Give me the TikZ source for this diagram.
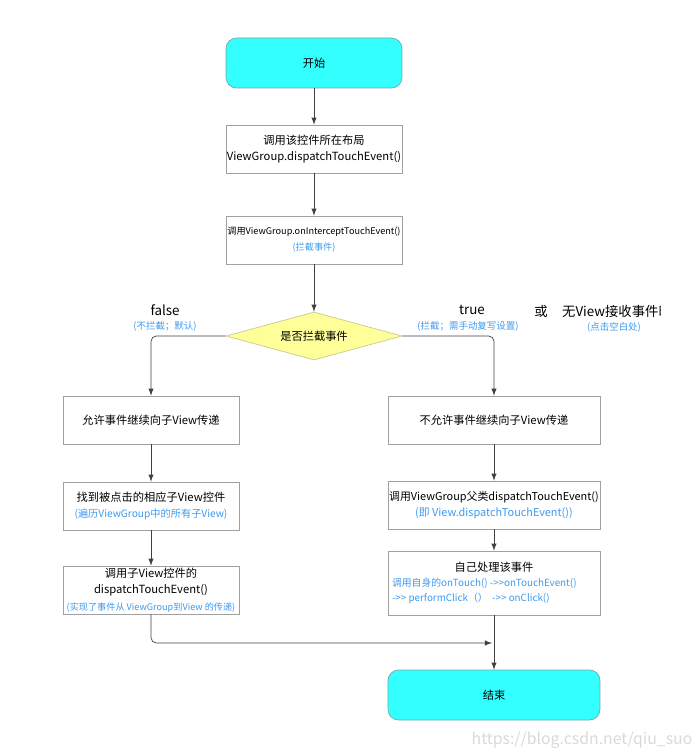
\documentclass[tikz,border=0pt]{standalone}
\usepackage{fontspec}
\setmainfont{Noto Sans CJK SC}
\usetikzlibrary{shapes.geometric}
\definecolor{termfill}{HTML}{33FFFF}
\definecolor{termline}{HTML}{6FA8A8}
\definecolor{judgefill}{HTML}{FFFF99}
\definecolor{judgeline}{HTML}{C9C98F}
\definecolor{boxline}{HTML}{A0A0A0}
\definecolor{hint}{HTML}{3D9BF0}
\definecolor{flow}{HTML}{404040}
\tikzset{
    stepbox/.style={draw=boxline, fill=white, minimum width=3.52cm, minimum height=0.96cm, align=center, inner sep=0pt, font=\fontsize{6.4}{9.4}\selectfont},
    widebox/.style={stepbox, minimum width=4.24cm},
    terminal/.style={draw=termline, fill=termfill, rounded corners=6pt, minimum width=3.52cm, minimum height=1cm, font=\fontsize{6.4}{8}\selectfont},
    judge/.style={diamond, aspect=3.6, draw=judgeline, fill=judgefill, minimum width=3.52cm, minimum height=0.96cm, inner sep=0pt, font=\fontsize{6.4}{8}\selectfont},
    branch/.style={font=\fontsize{7.6}{9}\selectfont},
    note/.style={text=hint, font=\fontsize{5.4}{7}\selectfont},
    flowline/.style={draw=flow, ->, >=latex, rounded corners=3pt}
}
\newcommand{\hintline}[1]{\makebox[4.08cm][l]{\textcolor{hint}{\fontsize{5.6}{8.6}\selectfont #1}}}
\begin{document}
\begin{tikzpicture}[x=0.02cm, y=-0.02cm]
    \useasboundingbox (0, 0) rectangle (692, 756);
    % main column
    \node[terminal] (start) at (314, 63) {开始};
    \node[stepbox] (layout) at (314, 149) {调用该控件所在布局\\ViewGroup.dispatchTouchEvent()};
    \node[stepbox, font=\fontsize{5.2}{9}\selectfont] (intercept) at (314, 240) {调用ViewGroup.onInterceptTouchEvent()\\\textcolor{hint}{(拦截事件)}};
    \node[judge] (ask) at (314, 336) {是否拦截事件};
    % left branch
    \node[stepbox] (allow) at (151, 420) {允许事件继续向子View传递};
    \node[stepbox] (find) at (151, 506) {找到被点击的相应子View控件\\\textcolor{hint}{\fontsize{5.8}{9}\selectfont(遍历ViewGroup中的所有子View)}};
    \node[stepbox] (child) at (151, 590) {调用子View控件的\\dispatchTouchEvent()\\\textcolor{hint}{\fontsize{5.2}{8}\selectfont(实现了事件从 ViewGroup到View 的传递)}};
    % right branch
    \node[widebox] (deny) at (494, 420) {不允许事件继续向子View传递};
    \node[widebox, font=\fontsize{6.2}{9.4}\selectfont] (parent) at (494, 505) {调用ViewGroup父类dispatchTouchEvent()\\\textcolor{hint}{(即 View.dispatchTouchEvent())}};
    \node[widebox, minimum height=1.28cm, font=\fontsize{6.4}{8.6}\selectfont] (self) at (494, 583) {自己处理该事件\\\hintline{调用自身的onTouch() -{}>{}>onTouchEvent()}\\\hintline{-{}>{}> performClick（）\ \ -{}>{}> onClick()}};
    \node[terminal, minimum width=4.24cm] (finish) at (494, 695) {结束};
    \coordinate (merge) at (492, 643);
    % branch labels
    \node[branch] (nolabel) at (165, 310) {false};
    \node[note] (nonote) at (165, 326) {(不拦截；默认)};
    \node[branch] (yeslabel) at (472, 310) {true};
    \node[note] (yesnote) at (468, 326) {(拦截；需手动复写设置)};
    \node[branch] (orlabel) at (541, 311) {或};
    \begin{scope}
        \clip (0, 0) rectangle (660, 756);
        \node[branch, anchor=west] (emptylabel) at (556, 311) {无View接收事件时};
    \end{scope}
    \node[note] (emptynote) at (614, 327) {(点击空白处)};
    % connectors
    \draw[flowline] (start) -- (layout);
    \draw[flowline] (layout) -- (intercept);
    \draw[flowline] (intercept) -- (ask);
    \draw[flowline] (ask.west) -| (allow.north);
    \draw[flowline] (ask.east) -| (deny.north);
    \draw[flowline] (allow) -- (find);
    \draw[flowline] (find) -- (child);
    \draw[flowline] (deny) -- (parent);
    \draw[flowline] (parent) -- (self);
    \draw[flowline] (self) -- (finish);
    \draw[flowline] (child.south) |- (merge);
    % watermark
    \node[text=black!15, font=\fontsize{9}{10}\selectfont] (mark) at (582, 740) {https://blog.csdn.net/qiu\_suo};
\end{tikzpicture}
\end{document}
